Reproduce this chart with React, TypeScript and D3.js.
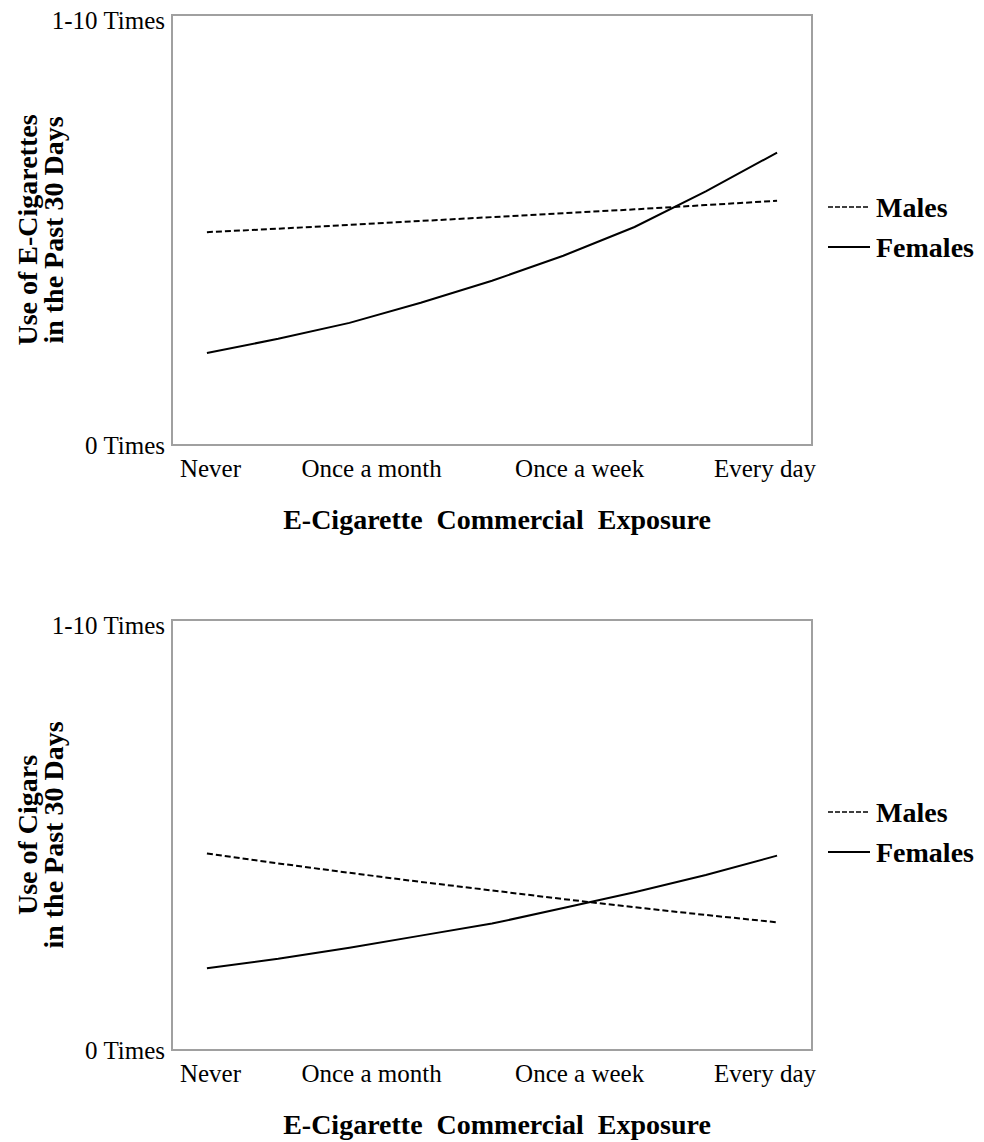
import React, { useRef, useEffect } from "react";
import * as d3 from "d3";

// exposure steps 0..8 (model predictions drawn as 9-point lines)
const steps = [0, 1, 2, 3, 4, 5, 6, 7, 8];
const categories = ["Never", "Once a month", "Once a week", "Every day"];
const categoryPos = [0.05, 2.31, 5.23, 7.83];
const yTicks = [0, 1];
const yTickLabels = ["0 Times", "1-10 Times"];

// top panel: e-cigarettes
const ecigMales = [0.495, 0.503, 0.512, 0.521, 0.53, 0.539, 0.548, 0.558, 0.568];
const ecigFemales = [0.214, 0.247, 0.284, 0.331, 0.382, 0.44, 0.507, 0.59, 0.68];
// bottom panel: cigars
const cigarMales = [0.457, 0.434, 0.412, 0.391, 0.371, 0.351, 0.332, 0.314, 0.297];
const cigarFemales = [0.19, 0.212, 0.238, 0.266, 0.294, 0.33, 0.367, 0.407, 0.452];

const seriesNames = ["Males", "Females"];
const panels = [
  { top: 15, title: ["Use of E-Cigarettes", "in the Past 30 Days"], males: ecigMales, females: ecigFemales },
  { top: 620, title: ["Use of Cigars", "in the Past 30 Days"], males: cigarMales, females: cigarFemales },
];

const W = 984;
const H = 1142;
const FONT = "'Liberation Serif', 'Times New Roman', serif";

function App() {
  const ref = useRef<SVGSVGElement>(null);

  useEffect(() => {
    const svg = d3.select(ref.current);
    svg.selectAll("*").remove();

    const left = 172;
    const right = 812;
    const height = 430;

    const x = d3.scaleLinear().domain([-0.49, 8.49]).range([left, right]);

    panels.forEach((p) => {
      const y = d3.scaleLinear().domain([0, 1]).range([p.top + height, p.top]);
      const g = svg.append("g");

      // frame
      g.append("rect")
        .attr("x", left)
        .attr("y", p.top)
        .attr("width", right - left)
        .attr("height", height)
        .attr("fill", "none")
        .attr("stroke", "#a0a0a0")
        .attr("stroke-width", 2);

      // y tick labels
      g.selectAll(".ytick")
        .data(yTicks)
        .enter()
        .append("text")
        .attr("x", left - 7)
        .attr("y", (d) => y(d) + (d === 1 ? 14 : 9))
        .attr("text-anchor", "end")
        .attr("font-family", FONT)
        .attr("font-size", 25)
        .text((d, i) => yTickLabels[i]);

      // x tick labels
      g.selectAll(".xtick")
        .data(categories)
        .enter()
        .append("text")
        .attr("x", (d, i) => x(categoryPos[i]))
        .attr("y", p.top + height + 32)
        .attr("text-anchor", "middle")
        .attr("font-family", FONT)
        .attr("font-size", 25)
        .text((d) => d);

      // x axis title
      g.append("text")
        .attr("x", (left + right) / 2 + 5)
        .attr("y", p.top + height + 84)
        .attr("text-anchor", "middle")
        .attr("font-family", FONT)
        .attr("font-size", 28)
        .attr("font-weight", "bold")
        .attr("word-spacing", 7)
        .text("E-Cigarette Commercial Exposure");

      // y axis title (two lines)
      const cy = p.top + height / 2;
      p.title.forEach((t, i) => {
        g.append("text")
          .attr("transform", `translate(${37 + i * 26}, ${cy}) rotate(-90)`)
          .attr("text-anchor", "middle")
          .attr("font-family", FONT)
          .attr("font-size", 28)
          .attr("font-weight", "bold")
          .text(t);
      });

      const line = d3
        .line<number>()
        .x((d, i) => x(steps[i]))
        .y((d) => y(d));

      g.append("path")
        .attr("d", line(p.males))
        .attr("fill", "none")
        .attr("stroke", "#000")
        .attr("stroke-width", 2)
        .attr("stroke-dasharray", "6,3");

      g.append("path")
        .attr("d", line(p.females))
        .attr("fill", "none")
        .attr("stroke", "#000")
        .attr("stroke-width", 2);

      // legend
      const leg = g.selectAll(".leg")
        .data(seriesNames)
        .enter()
        .append("g")
        .attr("transform", (d, i) => `translate(828, ${p.top + 192 + i * 40})`);

      leg.append("line")
        .attr("x1", 0)
        .attr("x2", 42)
        .attr("y1", 0)
        .attr("y2", 0)
        .attr("stroke", "#000")
        .attr("stroke-width", (d, i) => (i === 0 ? 1.5 : 2))
        .attr("stroke-dasharray", (d, i) => (i === 0 ? "5,2" : null));

      leg.append("text")
        .attr("x", 48)
        .attr("y", 10)
        .attr("font-family", FONT)
        .attr("font-size", 28)
        .attr("font-weight", "bold")
        .text((d) => d);
    });
  }, []);

  return (
    <svg
      ref={ref}
      width={W}
      height={H}
      style={{ position: "absolute", left: 0, top: 0, background: "#fff" }}
    />
  );
}

export default App;
